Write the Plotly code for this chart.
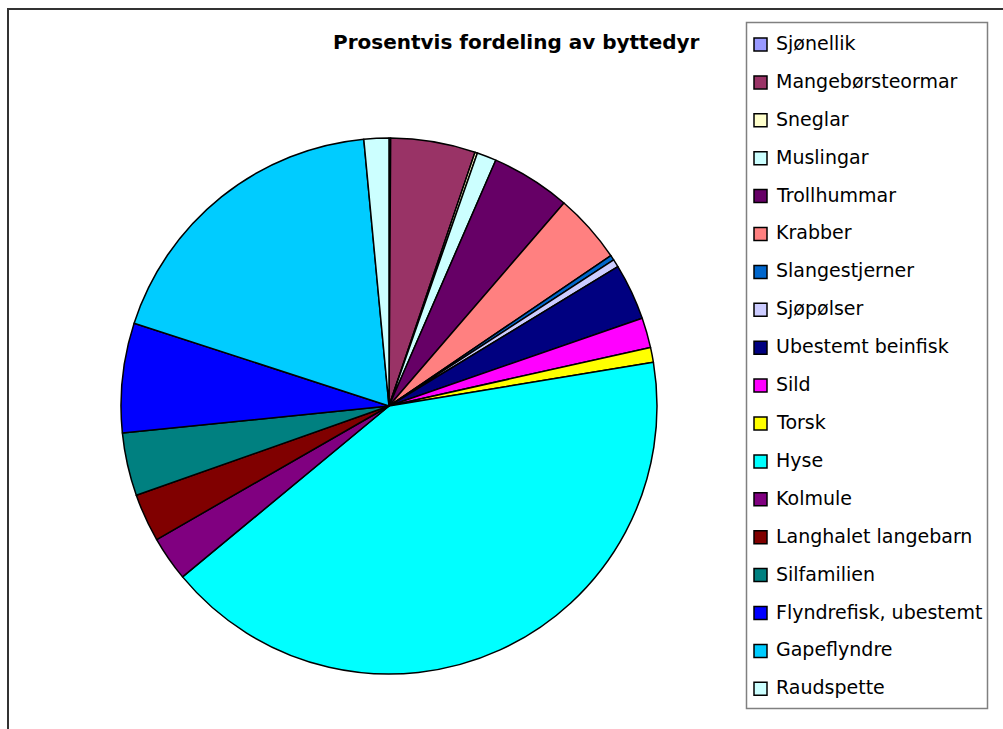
import plotly.graph_objects as go

W, H = 1003, 729

categories = [
    "Sjønellik", "Mangebørsteormar", "Sneglar", "Muslingar", "Trollhummar",
    "Krabber", "Slangestjerner", "Sjøpølser", "Ubestemt beinfisk", "Sild",
    "Torsk", "Hyse", "Kolmule", "Langhalet langebarn", "Silfamilien",
    "Flyndrefisk, ubestemt", "Gapeflyndre", "Raudspette",
]
percent = [
    0.1, 5.1, 0.15, 1.17, 4.8,
    4.2, 0.3, 0.47, 3.4, 1.8,
    0.9, 41.6, 2.7, 2.9, 3.8,
    6.6, 18.5, 1.5,
]
colors = [
    "#9999FF", "#993366", "#FFFFCC", "#CCFFFF", "#660066",
    "#FF8080", "#0066CC", "#CCCCFF", "#000080", "#FF00FF",
    "#FFFF00", "#00FFFF", "#800080", "#800000", "#008080",
    "#0000FF", "#00CCFF", "#CCFFFF",
]
title_text = "Prosentvis fordeling av byttedyr"


def px(x):
    return x / W


def py(y):
    return 1 - y / H


fig = go.Figure(go.Pie(
    labels=categories,
    values=percent,
    marker=dict(colors=colors, line=dict(color="black", width=1.5)),
    sort=False,
    direction="clockwise",
    rotation=0,
    textinfo="none",
    hoverinfo="label+percent",
    showlegend=False,
    domain=dict(x=[px(121), px(657)], y=[py(674), py(138)]),
))

shapes = [
    # outer chart frame
    dict(type="rect", xref="paper", yref="paper",
         x0=px(8), x1=px(1010), y0=py(740), y1=py(9),
         line=dict(color="#333333", width=2), fillcolor="rgba(0,0,0,0)"),
    # legend box
    dict(type="rect", xref="paper", yref="paper",
         x0=px(746.5), x1=px(987.5), y0=py(708.5), y1=py(22.5),
         line=dict(color="#808080", width=1.5), fillcolor="white"),
]
annotations = [
    dict(text="<b>" + title_text + "</b>", xref="paper", yref="paper",
         x=px(516), y=py(42), xanchor="center", yanchor="middle",
         showarrow=False, font=dict(family="DejaVu Sans", size=20, color="black")),
]

step = 37.9
for i, (name, col) in enumerate(zip(categories, colors)):
    cy = 44 + i * step
    shapes.append(dict(type="rect", xref="paper", yref="paper",
                       x0=px(754), x1=px(767), y0=py(cy + 7), y1=py(cy - 6),
                       line=dict(color="black", width=1.5), fillcolor=col))
    annotations.append(dict(text=name, xref="paper", yref="paper",
                            x=px(774), y=py(cy - 1), xanchor="left", yanchor="middle",
                            showarrow=False,
                            font=dict(family="DejaVu Sans", size=19, color="black")))

fig.update_layout(
    width=W, height=H,
    margin=dict(l=0, r=0, t=0, b=0),
    paper_bgcolor="white",
    plot_bgcolor="white",
    shapes=shapes,
    annotations=annotations,
)

fig.write_html("out.html")
